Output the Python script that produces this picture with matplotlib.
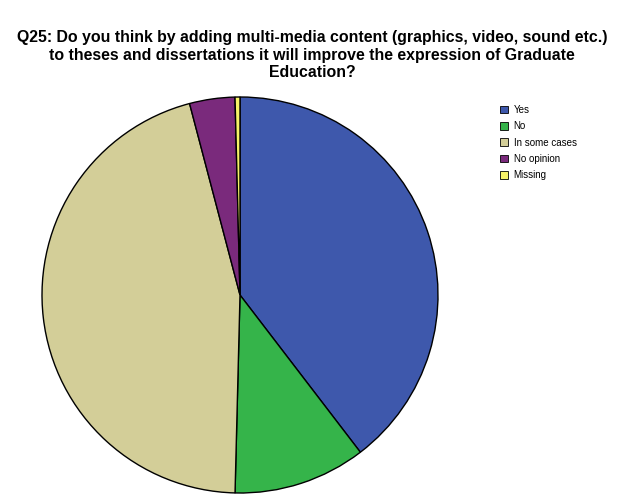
import matplotlib.pyplot as plt
from matplotlib.patches import Patch

plt.rcParams['font.family'] = ['Liberation Sans', 'DejaVu Sans']

labels = ['Yes', 'No', 'In some cases', 'No opinion', 'Missing']
percents = [39.6, 10.8, 45.5, 3.7, 0.4]
colors = ['#3e58ac', '#35b44a', '#d3ce98', '#7a2a7c', '#f7f268']

title = ('Q25: Do you think by adding multi-media content (graphics, video, sound etc.)\n'
         'to theses and dissertations it will improve the expression of Graduate\n'
         'Education?')

fig = plt.figure(figsize=(6.24, 5.00), dpi=100)
fig.text(312 / 624, 1 - 30 / 500, title, ha='center', va='top',
         fontsize=11.4, fontweight='bold', linespacing=1.22)

ax = fig.add_axes([42 / 624, 7 / 500, 396 / 624, 396 / 500])
ax.pie(percents, colors=colors, startangle=90, counterclock=False,
       wedgeprops={'edgecolor': 'black', 'linewidth': 1.0})
ax.set_xlim(-1, 1)
ax.set_ylim(-1, 1)
ax.set_aspect('equal')
ax.axis('off')

handles = [Patch(facecolor=c, edgecolor='black', linewidth=0.6) for c in colors]
fig.legend(handles, labels, loc='upper left', bbox_to_anchor=(496 / 624, 1 - 101 / 500),
           frameon=False, fontsize=7, handlelength=0.8, handleheight=0.8,
           handletextpad=0.6, labelspacing=0.65, borderaxespad=0)

fig.savefig('out.png', dpi=100)
